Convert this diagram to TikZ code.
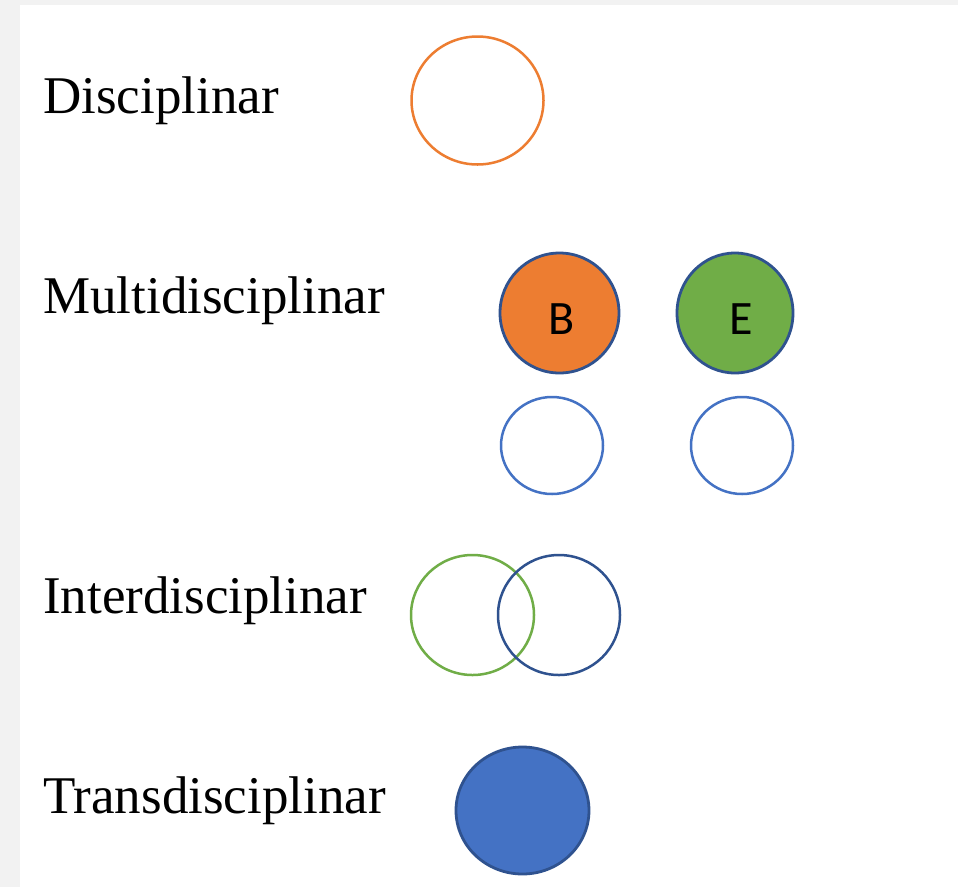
\documentclass[tikz,border=0pt]{standalone}
\usepackage{fontspec}
\setmainfont{Liberation Serif}
\newfontfamily\calib{Carlito}
\definecolor{cOrange}{HTML}{ED7D31}
\definecolor{cGreen}{HTML}{70AD47}
\definecolor{cBlue}{HTML}{4472C4}
\definecolor{cDark}{HTML}{2F528F}
\definecolor{cGray}{HTML}{F2F2F2}
\tikzset{
  lbl/.style={anchor=base west, inner sep=0pt, font=\fontsize{53}{60}\selectfont},
  ring/.style={line width=2.5pt},
  disc/.style={line width=2.8pt, draw=cDark},
  letter/.style={inner sep=0pt, font=\calib\fontsize{48}{54}\selectfont}
}
\begin{document}
\begin{tikzpicture}[x=1pt,y=-1pt]
\useasboundingbox (0,0) rectangle (958,887);
\fill[cGray] (0,0) rectangle (958,887);
\fill[white] (20,5) rectangle (958,887);

\node[lbl] (t1) at (43,113) {Disciplinar};
\node[lbl] (t2) at (43,313) {Multidisciplinar};
\node[lbl] (t3) at (43,613) {Interdisciplinar};
\node[lbl] (t4) at (43,813) {Transdisciplinar};

% Disciplinar
\draw[ring, cOrange] (477.5,100.5) ellipse [x radius=66, y radius=64];

% Multidisciplinar
\draw[disc, fill=cOrange] (559.5,313) ellipse [x radius=59.5, y radius=60];
\draw[disc, fill=cGreen] (735,313) ellipse [x radius=58, y radius=60];
\node[letter] (b) at (562,319) {B};
\node[letter] (e) at (741,319) {E};
\draw[ring, cBlue] (552,445.5) ellipse [x radius=51, y radius=48.5];
\draw[ring, cBlue] (742,445.5) ellipse [x radius=51, y radius=48.5];

% Interdisciplinar
\draw[ring, cGreen] (472.5,615) ellipse [x radius=61.5, y radius=60];
\draw[ring, cDark] (559,615) ellipse [x radius=61, y radius=60];

% Transdisciplinar
\draw[disc, fill=cBlue] (522.5,810.5) ellipse [x radius=66.5, y radius=63.5];
\end{tikzpicture}
\end{document}
